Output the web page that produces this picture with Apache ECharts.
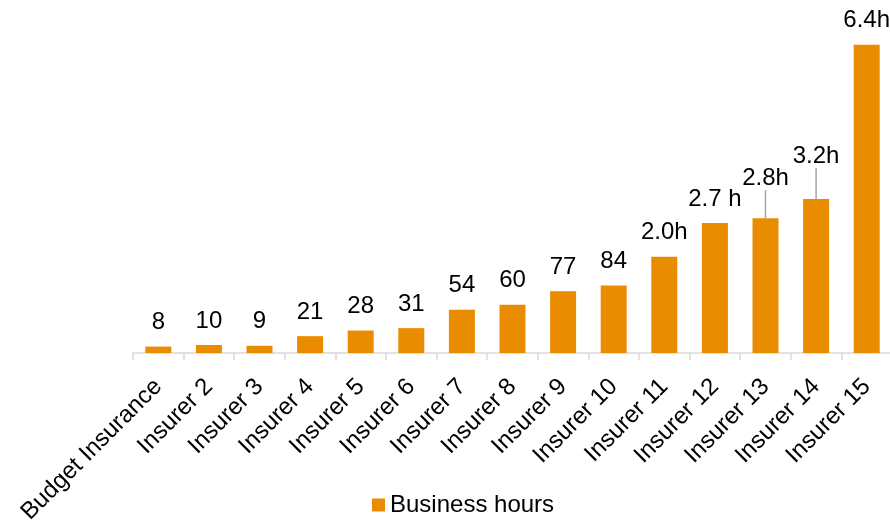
<!DOCTYPE html>
<html>
<head>
<meta charset="utf-8">
<style>
  html, body { margin: 0; padding: 0; background: #ffffff; }
  #chart { width: 890px; height: 521px; }
</style>
<script src="https://cdn.jsdelivr.net/npm/echarts@6/dist/echarts.min.js"></script>
</head>
<body>
<div id="chart"></div>
<script>
// Response time per insurer, in minutes
const categories = [
  'Budget Insurance', 'Insurer 2', 'Insurer 3', 'Insurer 4', 'Insurer 5',
  'Insurer 6', 'Insurer 7', 'Insurer 8', 'Insurer 9', 'Insurer 10',
  'Insurer 11', 'Insurer 12', 'Insurer 13', 'Insurer 14', 'Insurer 15'
];
const minutes = [8, 10, 9, 21, 28, 31, 54, 60, 77, 84, 120, 162, 168, 192, 384];
// Text shown above each bar (hours once past two hours)
const valueLabels = ['8', '10', '9', '21', '28', '31', '54', '60', '77', '84',
  '2.0h', '2.7 h', '2.8h', '3.2h', '6.4h'];
// Labels lifted above their bars with a leader line (extra lift in px)
const liftedLabels = { 12: 11, 13: 14 };

const font = '"Liberation Sans", Arial, sans-serif';
const barColor = '#EA8C00';

const chart = echarts.init(document.getElementById('chart'));
chart.setOption({
  animation: false,
  textStyle: { fontFamily: font },
  grid: {
    left: 133, top: 32, width: 759, height: 321,
    containLabel: false, outerBoundsMode: 'none'
  },
  legend: {
    bottom: -1,
    left: 367,
    itemWidth: 13,
    itemHeight: 13,
    itemGap: 5,
    icon: 'rect',
    textStyle: { fontSize: 24, color: '#000', fontFamily: font },
    data: ['Business hours']
  },
  xAxis: {
    type: 'category',
    data: categories,
    axisLine: { lineStyle: { color: '#d9d9d9', width: 1.5 } },
    axisTick: { show: true, length: 7, lineStyle: { color: '#d9d9d9', width: 1.5 } },
    axisLabel: {
      rotate: 45,
      interval: 0,
      margin: 30,
      fontSize: 24,
      color: '#000',
      fontFamily: font
    }
  },
  yAxis: {
    type: 'value',
    min: 0,
    max: 400,
    show: false,
    splitLine: { show: false }
  },
  series: [{
    name: 'Business hours',
    type: 'bar',
    barWidth: 26,
    itemStyle: { color: barColor },
    data: minutes.map((v, i) => liftedLabels[i] ? {
      value: v,
      label: { padding: [0, 0, 5, 0] },
      labelLine: { show: true, lineStyle: { color: '#a6a6a6', width: 1.5 } }
    } : { value: v }),
    label: {
      show: true,
      position: 'top',
      distance: 12,
      fontSize: 24,
      color: '#000',
      fontFamily: font,
      formatter: p => valueLabels[p.dataIndex]
    },
    labelLayout: p => liftedLabels[p.dataIndex] ? { dy: -liftedLabels[p.dataIndex] } : {}
  }]
});
</script>
</body>
</html>
